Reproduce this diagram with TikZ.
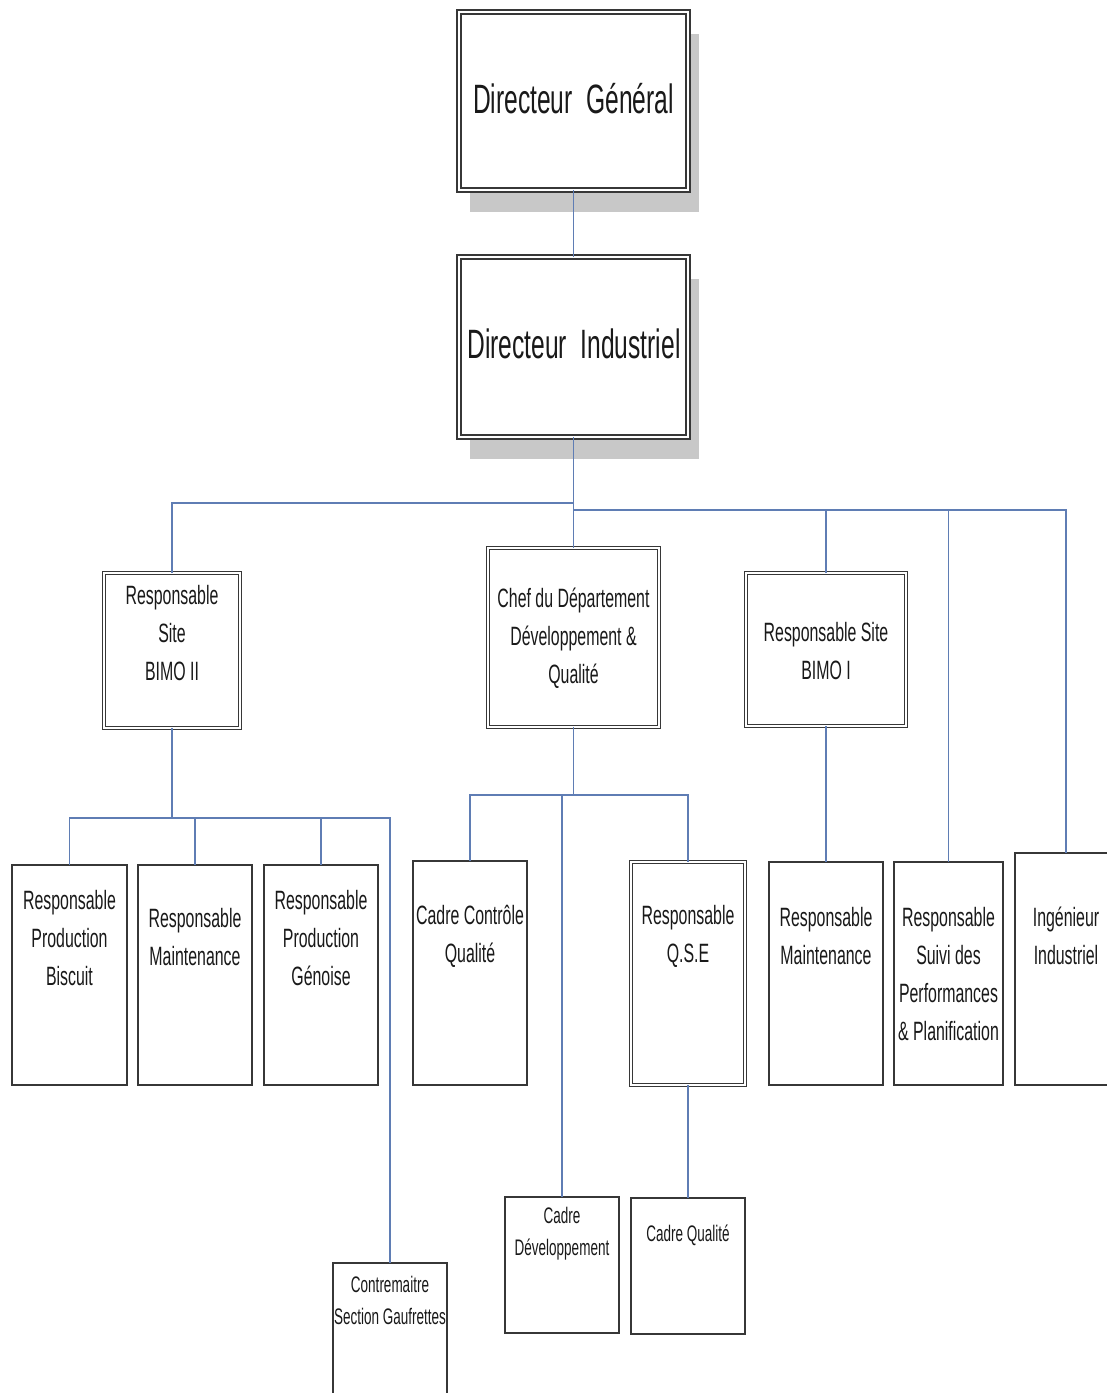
\documentclass[tikz,border=0pt]{standalone}
\usepackage{fontspec}
\setmainfont[FakeStretch=0.6]{Liberation Sans}
\usetikzlibrary{shadows}
\definecolor{linec}{RGB}{95,125,180}
\definecolor{boxc}{RGB}{55,55,55}
\definecolor{shadc}{RGB}{200,200,200}
\definecolor{txtc}{RGB}{25,25,25}
\begin{document}
\begin{tikzpicture}[x=1pt,y=-1pt,
  base/.style={anchor=north west, inner sep=0pt, outer sep=0pt, fill=white},
  sbox/.style={base, draw=boxc, line width=1.4pt},
  dbox/.style={base, draw=boxc, line width=1.1pt, double=white, double distance=2.2pt},
  topbox/.style={base, draw=boxc, line width=1.4pt, double=white, double distance=2.6pt,
    drop shadow={shadow xshift=11pt, shadow yshift=-22pt, fill=shadc, opacity=1}},
  bigtxt/.style={text=txtc, inner sep=0pt, font=\fontsize{41}{48}\selectfont},
  midtxt/.style={text=txtc, inner sep=0pt, align=center, font=\fontsize{26.5}{38}\selectfont},
  smalltxt/.style={text=txtc, inner sep=0pt, align=center, font=\fontsize{22.5}{32}\selectfont},
  conn/.style={draw=linec, line width=1.3pt}
]
\clip (0,0) rectangle (1107,1393);
\fill[white] (0,0) rectangle (1107,1393);

% level 0 / 1
\node[topbox, minimum width=229pt, minimum height=178pt] (dg) at (459,12) {};
\node[topbox, minimum width=229pt, minimum height=180pt] (di) at (459,257) {};

% level 2
\node[dbox, minimum width=136pt, minimum height=155pt] (bimo2) at (104,573) {};
\node[dbox, minimum width=171pt, minimum height=179pt] (chef) at (488,548) {};
\node[dbox, minimum width=160pt, minimum height=153pt] (bimo1) at (746,573) {};

% level 3
\node[sbox, minimum width=115pt, minimum height=220pt] (bisc) at (12,865) {};
\node[sbox, minimum width=114pt, minimum height=220pt] (maintA) at (138,865) {};
\node[sbox, minimum width=114pt, minimum height=220pt] (geno) at (264,865) {};
\node[sbox, minimum width=114pt, minimum height=224pt] (ccq) at (413,861) {};
\node[dbox, minimum width=114pt, minimum height=223pt] (qse) at (631,862) {};
\node[sbox, minimum width=114pt, minimum height=223pt] (maintB) at (769,862) {};
\node[sbox, minimum width=109pt, minimum height=223pt] (suivi) at (894,862) {};
\node[sbox, minimum width=102pt, minimum height=232pt] (ing) at (1015,853) {};

% level 4
\node[sbox, minimum width=114pt, minimum height=160pt] (contre) at (333,1263) {};
\node[sbox, minimum width=114pt, minimum height=136pt] (cdev) at (505,1197) {};
\node[sbox, minimum width=114pt, minimum height=136pt] (cqual) at (631,1198) {};

% junctions
\coordinate (jl) at (573.5,503);
\coordinate (jr) at (573.5,510);
\coordinate (jb2) at (172,818);
\coordinate (jch) at (573.5,795);

% connectors
\draw[conn] (dg.south) -- (di.north);
\draw[conn] (di.south) -- (chef.north);
\draw[conn] (jl) -| (bimo2.north);
\draw[conn] (jr) -| (ing.north);
\draw[conn] (jr) -| (bimo1.north);
\draw[conn] (jr) -| (suivi.north);

\draw[conn] (bimo2.south) -- (jb2);
\draw[conn] (bisc.north) |- (jb2 -| contre.north) -- (contre.north);
\draw[conn] (maintA.north) -- (maintA.north |- jb2);
\draw[conn] (geno.north) -- (geno.north |- jb2);

\draw[conn] (chef.south) -- (jch);
\draw[conn] (ccq.north) |- (jch -| qse.north) -- (qse.north);
\draw[conn] (cdev.north) -- (cdev.north |- jch);
\draw[conn] (qse.south) -- (cqual.north);

\draw[conn] (bimo1.south) -- (maintB.north);

% texts
\node[bigtxt] (dgt) at (573.5,99) {Directeur\ \ Général};
\node[bigtxt] (dit) at (574,344) {Directeur\ \ Industriel};

\node[midtxt] (bimo2t) at (172,633) {Responsable\\Site\\BIMO II};
\node[midtxt] (cheft) at (573.5,638) {Chef du Département\\Développement \&\\Qualité};
\node[midtxt] (bimo1t) at (826,651) {Responsable Site\\BIMO I};

\node[midtxt] (bisct) at (69.5,938) {Responsable\\Production\\Biscuit};
\node[midtxt] (maintAt) at (195,937) {Responsable\\Maintenance};
\node[midtxt] (genot) at (321,938) {Responsable\\Production\\Génoise};
\node[midtxt] (ccqt) at (470,936) {Cadre Contrôle\\Qualité};
\node[midtxt] (qset) at (688,936) {Responsable\\Q.S.E};
\node[midtxt] (maintBt) at (826,936) {Responsable\\Maintenance};
\node[midtxt] (suivit) at (948.5,974) {Responsable\\Suivi des\\Performances\\\& Planification};
\node[midtxt] (ingt) at (1066,936) {Ingénieur\\Industriel};

\node[smalltxt] (contret) at (390,1300) {Contremaitre\\Section Gaufrettes};
\node[smalltxt] (cdevt) at (562,1234) {Cadre\\Développement};
\node[smalltxt] (cqualt) at (688,1235) {Cadre Qualité};
\end{tikzpicture}
\end{document}
